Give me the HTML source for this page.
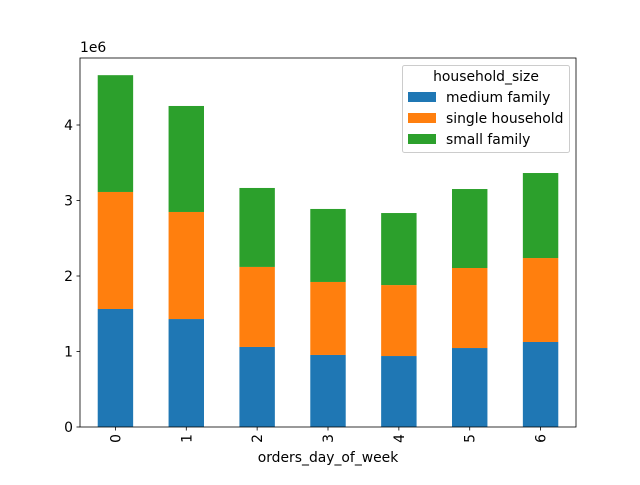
<!DOCTYPE html>
<html><head><meta charset="utf-8"><style>
body{margin:0;background:#fff;}
svg{font-family:"DejaVu Sans","Liberation Sans",sans-serif;}
</style></head><body>
<svg id="chart" width="640" height="480" viewBox="0 0 640 480">
<rect x="0" y="0" width="640" height="480" fill="#fff"/>
<g id="bars"></g>
<g id="axes"></g>
</svg>
<script>
const categories = ["0","1","2","3","4","5","6"];
const seriesNames = ["medium family","single household","small family"];
const mediumFamily = [1.563,1.43,1.06,0.954,0.94,1.046,1.126];
const singleHousehold = [1.55,1.418,1.06,0.967,0.94,1.06,1.112];
const smallFamily = [1.547,1.404,1.046,0.967,0.954,1.046,1.126];
const yTicks = [0,1,2,3,4];
const colors = ["#1f77b4","#ff7f0e","#2ca02c"];
const ns="http://www.w3.org/2000/svg";
const L=80,R=576,T=58,B=427,FS=13.9;
const yMax=(B-T)/75.5;
const y=v=>B-v/yMax*(B-T);
const step=(R-L)/categories.length;
const xc=i=>L+step*(i+0.5);
const bw=step*0.5;
function mk(tag,attrs,parent){const e=document.createElementNS(ns,tag);for(const k in attrs)e.setAttribute(k,attrs[k]);parent.appendChild(e);return e;}
const bars=document.getElementById('bars'), axes=document.getElementById('axes');
const series=[mediumFamily,singleHousehold,smallFamily];
categories.forEach((c,i)=>{
  let base=0;
  series.forEach((s,j)=>{
    const r=mk('rect',{x:xc(i)-bw/2,y:y(base+s[i]),width:bw,height:y(base)-y(base+s[i]),fill:colors[j]},bars);
    
    
    base+=s[i];
  });
});
const frame=mk('rect',{x:L,y:T,width:R-L,height:B-T,fill:'none',stroke:'#000','stroke-width':0.8},axes);


yTicks.forEach(t=>{
  mk('line',{x1:L-3.5,x2:L,y1:y(t),y2:y(t),stroke:'#000','stroke-width':0.8},axes);
  const tx=mk('text',{x:L-7,y:y(t)+5,'text-anchor':'end','font-size':FS,fill:'#000'},axes);
  tx.textContent=t;
  
  
});
categories.forEach((c,i)=>{
  mk('line',{x1:xc(i),x2:xc(i),y1:B,y2:B+3.5,stroke:'#000','stroke-width':0.8},axes);
  const tx=mk('text',{x:xc(i)+5,y:B+7,'text-anchor':'end','font-size':FS,fill:'#000',transform:`rotate(-90 ${xc(i)+5} ${B+7})`},axes);
  tx.textContent=c;
  
  
});
const sc=mk('text',{x:L,y:T-6,'font-size':FS,fill:'#000'},axes);sc.textContent='1e6';


const xt=mk('text',{x:(L+R)/2,y:462,'text-anchor':'middle','font-size':FS,fill:'#000'},axes);xt.textContent='orders_day_of_week';


const lg=mk('g',{},axes);


mk('rect',{x:402.5,y:65.5,width:167,height:87,rx:2,fill:'#fff','fill-opacity':0.8,stroke:'#ccc'},lg);
const lt=mk('text',{x:486,y:81,'text-anchor':'middle','font-size':FS,fill:'#000'},lg);lt.textContent='household_size';


seriesNames.forEach((n,j)=>{
  const yy=97+j*21;
  const g=mk('g',{},lg);
  
  
  mk('rect',{x:408,y:yy-5,width:28,height:10,fill:colors[j]},g);
  const t=mk('text',{x:446,y:yy+5,'font-size':FS,fill:'#000'},g);t.textContent=n;
});
</script>
</body></html>
